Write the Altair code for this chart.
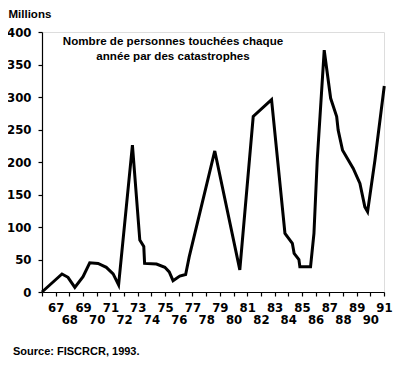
import altair as alt
import pandas as pd

years = [66, 67.46, 67.9, 68.4, 69.0, 69.49, 70.1, 70.7, 71.2, 71.6, 72.61, 73.15, 73.44, 73.5,
         74.37, 74.98, 75.3, 75.58, 76.07, 76.5, 76.76, 78.63, 80.46, 81.44, 82.78, 83.76, 84.3,
         84.43, 84.78, 84.85, 85.63, 85.88, 86.12, 86.63, 87.1, 87.54, 87.65, 87.97, 88.75, 89.24,
         89.6, 89.8, 90.34, 91.02]
values = [0, 27.7, 22.6, 7, 23.5, 45, 44, 38, 28, 11, 226, 80, 70, 44, 43, 38, 31, 17.5, 24.6, 27,
          54, 217, 34, 270, 296, 90, 75, 59.5, 50, 39, 39, 90, 203, 372, 298, 270, 249, 218, 190,
          167, 131, 123.5, 203, 317]
tick_years = list(range(66, 92))
y_ticks = [0, 50, 100, 150, 200, 250, 300, 350, 400]

df = pd.DataFrame({"annee": years, "millions": values, "ordre": list(range(len(years)))})

AX_FONT = "Liberation Sans Narrow, DejaVu Sans Condensed, Liberation Sans, sans-serif"
TXT_FONT = "Liberation Sans, Arial, sans-serif"

line = alt.Chart(df).mark_line(color="black", strokeWidth=3, strokeJoin="miter").encode(
    x=alt.X("annee:Q",
            scale=alt.Scale(domain=[66, 91], nice=False, zero=False),
            axis=alt.Axis(values=tick_years, title=None, grid=False,
                          labelExpr="datum.value == 66 ? '' : datum.value",
                          labelFont=AX_FONT, labelFontSize=13, labelFontWeight="bold",
                          labelColor="black", labelBaseline="top", labelFlush=False,
                          labelOverlap=False,
                          labelPadding={"condition": {"test": "datum.value % 2 == 0", "value": 17},
                                        "value": 5},
                          domainColor="black", domainWidth=1.2,
                          tickColor="black", tickSize=4, tickWidth=1.2)),
    y=alt.Y("millions:Q",
            scale=alt.Scale(domain=[0, 400], nice=False),
            axis=alt.Axis(values=y_ticks, grid=False, title="Millions",
                          titleAngle=0, titleAlign="left", titleBaseline="alphabetic",
                          titleX=-34, titleY=-15, titleFont=TXT_FONT, titleFontSize=11.5,
                          titleFontWeight="bold", titleColor="black",
                          labelFont=AX_FONT, labelFontSize=13, labelFontWeight="bold",
                          labelColor="black", labelPadding=7,
                          domainColor="black", domainWidth=1.2,
                          tickColor="black", tickSize=4, tickWidth=1.2)),
    order="ordre:Q",
)

annot = alt.Chart(pd.DataFrame({"t": [["Nombre de personnes touchées chaque",
                                        "année par des catastrophes"]]})).mark_text(
    font=TXT_FONT, fontSize=11.6, fontWeight="bold", color="black",
    align="center", baseline="alphabetic", lineHeight=15,
).encode(x=alt.value(131), y=alt.value(13), text="t:N")

source = alt.Chart(pd.DataFrame({"t": ["Source: FISCRCR, 1993."]})).mark_text(
    font=TXT_FONT, fontSize=11, fontWeight="bold", color="black",
    align="left", baseline="alphabetic",
).encode(x=alt.value(-29), y=alt.value(323), text="t:N")

chart = alt.layer(line, annot, source).properties(
    width=342, height=260,
    autosize=alt.AutoSizeParams(type="none"),
    padding={"left": 34, "top": 24, "right": 10, "bottom": 67},
).configure_view(stroke=None).configure(background="white")

chart.save("out.html", embed_options={"renderer": "svg", "actions": False})
